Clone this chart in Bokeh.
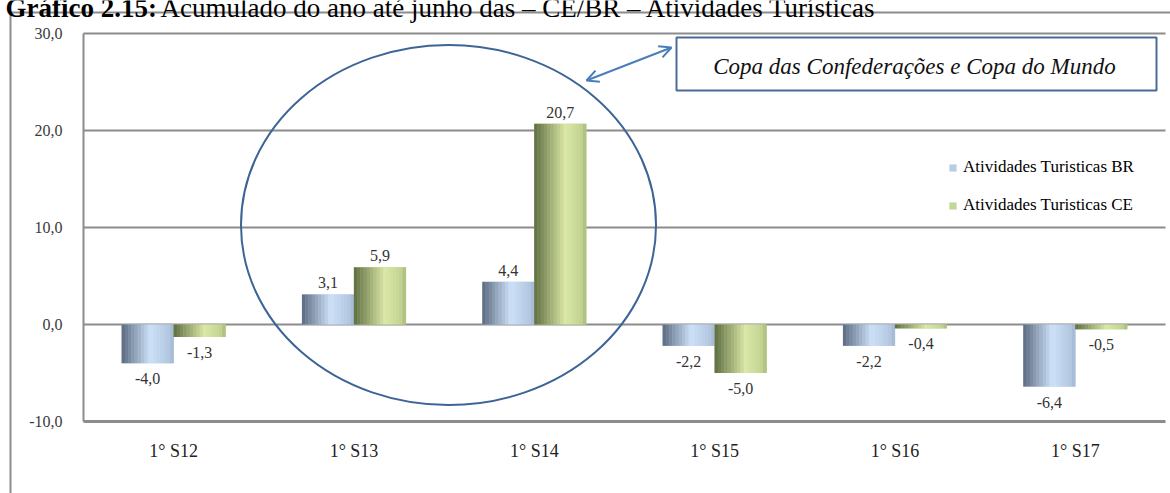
from bokeh.plotting import figure
from bokeh.models import (Range1d, LinearAxis, FixedTicker, Label, Arrow, OpenHead,
                          Legend, LegendItem, ColumnDataSource)
from bokeh.embed import file_html
from bokeh.resources import INLINE

# ---------------- data ----------------
categories = ["1° S12", "1° S13", "1° S14", "1° S15", "1° S16", "1° S17"]
br_values = [-4.0, 3.1, 4.4, -2.2, -2.2, -6.4]
ce_values = [-1.3, 5.9, 20.7, -5.0, -0.4, -0.5]
series_names = ["Atividades Turisticas BR", "Atividades Turisticas CE"]
y_ticks = [-10, 0, 10, 20, 30]
y_tick_labels = ["-10,0", "0,0", "10,0", "20,0", "30,0"]
title_bold = "Gráfico 2.15:"
title_rest = "Acumulado do ano até junho das – CE/BR – Atividades Turísticas"
callout_text = "Copa das Confederações e Copa do Mundo"

# ---------------- layout (pixels of the page) ----------------
W, H = 1170, 493
PX_LEFT, PX_RIGHT = 83, 1165
PX_ZERO, PX_PER_Y = 324, 9.7
n_cat = len(categories)
PX_PER_X = (PX_RIGHT - PX_LEFT) / n_cat


def xd(px):
    return (px - PX_LEFT) / PX_PER_X


def yd(py):
    return (PX_ZERO - py) / PX_PER_Y


GRID = "#8c8c8c"
SERIF = "Liberation Serif"
BAR_W = 0.288
N_STRIPS = 16

p = figure(width=W, height=H, output_backend="svg", toolbar_location=None,
           x_range=Range1d(xd(0), xd(W)), y_range=Range1d(yd(H), yd(0)),
           x_axis_type=None, y_axis_type=None,
           min_border=0, min_border_left=0, min_border_right=0,
           min_border_top=0, min_border_bottom=0)
p.outline_line_color = None
p.background_fill_color = "white"
p.border_fill_color = "white"
p.xgrid.visible = False
p.ygrid.visible = False

# outer frame
p.line(x=[xd(10), xd(10), xd(W + 5)], y=[yd(H + 5), yd(12), yd(12)],
       line_color=GRID, line_width=2)

# grid lines
grid_ticks = [t for t in y_ticks if t != y_ticks[0]]
p.segment(x0=[0] * len(grid_ticks), x1=[n_cat] * len(grid_ticks),
          y0=grid_ticks, y1=grid_ticks, line_color=GRID, line_width=2)


def hex2rgb(h):
    h = h.lstrip("#")
    return tuple(int(h[i:i + 2], 16) for i in (0, 2, 4))


def grad(stops, t):
    for (t0, c0), (t1, c1) in zip(stops[:-1], stops[1:]):
        if t0 <= t <= t1:
            f = (t - t0) / (t1 - t0)
            a, b = hex2rgb(c0), hex2rgb(c1)
            return "#%02x%02x%02x" % tuple(round(a[k] + (b[k] - a[k]) * f) for k in range(3))
    return stops[-1][1]


br_stops = [(0.0, "#5b6a80"), (0.55, "#cde1f8"), (0.9, "#b4c8e2"), (1.0, "#a3b6d0")]
ce_stops = [(0.0, "#5f6e42"), (0.6, "#dbe8a7"), (0.9, "#c3d493"), (1.0, "#a9bb7a")]
legend_colors = ["#b9cde5", "#c3d69b"]

centers = [i + 0.5 for i in range(n_cat)]
base_renderers = []
for s, (vals, stops, off) in enumerate([(br_values, br_stops, -BAR_W / 2),
                                         (ce_values, ce_stops, BAR_W / 2)]):
    xs = [c + off for c in centers]
    base = p.vbar(x=xs, top=vals, bottom=0, width=BAR_W,
                  fill_color=legend_colors[s], line_color=None)
    base_renderers.append(base)
    sx, st, sc = [], [], []
    for x, v in zip(xs, vals):
        for k in range(N_STRIPS):
            t = (k + 0.5) / N_STRIPS
            sx.append(x - BAR_W / 2 + t * BAR_W)
            st.append(v)
            sc.append(grad(stops, t))
    p.vbar(x=sx, top=st, bottom=0, width=BAR_W / N_STRIPS * 1.1,
           fill_color=sc, line_color=None)
    # value labels
    lab = ColumnDataSource(dict(
        x=xs, y=vals,
        text=[("%.1f" % v).replace(".", ",") for v in vals],
        base=["bottom" if v >= 0 else "top" for v in vals],
        yo=[-6 if v >= 0 else 10 for v in vals]))
    p.text(x="x", y="y", text="text", source=lab, text_align="center",
           text_baseline="base", y_offset="yo", text_font=SERIF,
           text_font_size="16px", text_color="#333333")

# axes
yaxis = LinearAxis(ticker=FixedTicker(ticks=y_ticks),
                   major_label_overrides=dict(zip(y_ticks, y_tick_labels)),
                   fixed_location=0, bounds=(y_ticks[0], y_ticks[-1]),
                   axis_line_color=GRID, axis_line_width=2,
                   major_tick_line_color=None, minor_tick_line_color=None,
                   major_label_text_font=SERIF,
                   major_label_text_font_size="16px",
                   major_label_text_color="#3a3a3a",
                   major_label_standoff=15)
p.add_layout(yaxis, "left")

xaxis = LinearAxis(ticker=FixedTicker(ticks=centers),
                   major_label_overrides=dict(zip(centers, categories)),
                   fixed_location=y_ticks[0], bounds=(0, n_cat),
                   axis_line_color=GRID, axis_line_width=3,
                   major_tick_line_color=None, minor_tick_line_color=None,
                   major_label_text_font=SERIF,
                   major_label_text_font_size="18px",
                   major_label_text_color="#222222",
                   major_label_standoff=13)
p.add_layout(xaxis, "below")

# highlight ellipse
p.ellipse(x=xd(448), y=yd(224.5), width=415 / PX_PER_X, height=360 / PX_PER_Y,
          fill_color=None, line_color="#3d6496", line_width=2)

# callout box
p.quad(left=xd(676), right=xd(1156), top=yd(37), bottom=yd(90),
       fill_color="white", line_color="#4a6a9a", line_width=2)
p.add_layout(Label(x=xd(914), y=yd(66), text=callout_text, text_align="center",
                   text_baseline="alphabetic", text_font=SERIF,
                   text_font_style="italic", text_font_size="23px",
                   text_color="#111111"))
p.add_layout(Arrow(start=OpenHead(size=12, line_color="#4a7ebb", line_width=2),
                   end=OpenHead(size=12, line_color="#4a7ebb", line_width=2),
                   x_start=xd(586), y_start=yd(80), x_end=xd(671), y_end=yd(47),
                   line_color="#4a7ebb", line_width=2))

# title (partly cut at the top of the page, as in the source)
p.add_layout(Label(x=xd(5), y=yd(7), text=title_bold, text_baseline="alphabetic",
                   text_font=SERIF, text_font_style="bold",
                   text_font_size="27px", text_color="#000000"))
p.add_layout(Label(x=xd(160), y=yd(7), text=title_rest, text_baseline="alphabetic",
                   text_font=SERIF, text_font_size="27px",
                   text_color="#000000"))

# legend
legend = Legend(items=[LegendItem(label=series_names[i], renderers=[base_renderers[i]])
                       for i in range(2)],
                location=(948, H - 215), orientation="vertical",
                glyph_width=9, glyph_height=9, label_height=20, spacing=18,
                padding=0, margin=0, border_line_color=None,
                background_fill_alpha=0, label_standoff=6,
                label_text_font=SERIF, label_text_font_size="17px",
                label_text_color="#000000")
p.add_layout(legend)

open("out.html", "w").write(file_html(p, INLINE))
